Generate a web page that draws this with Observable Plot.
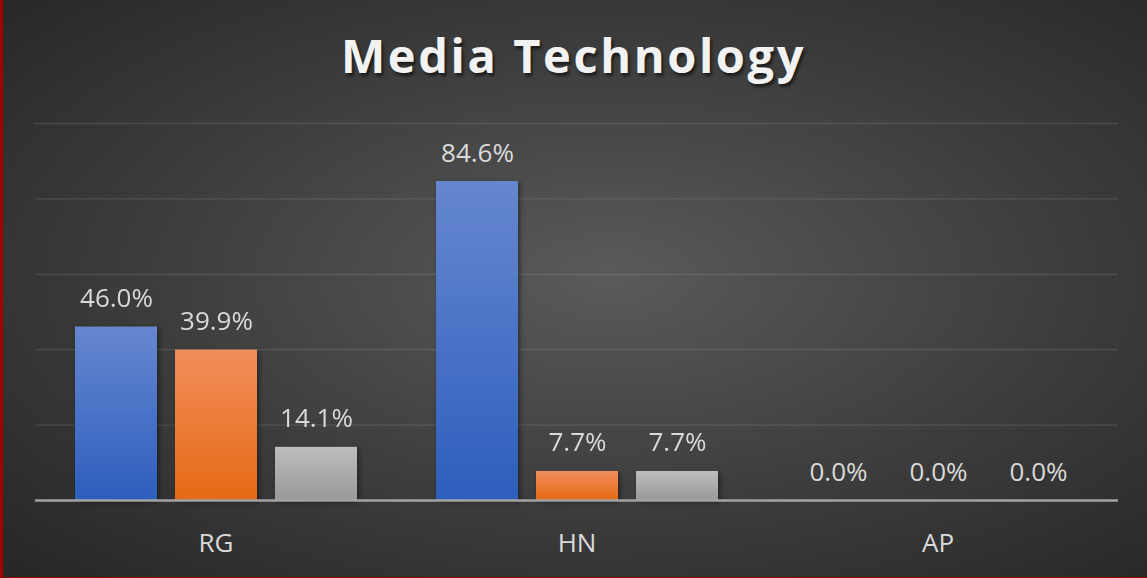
<!DOCTYPE html>
<html>
<head>
<meta charset="utf-8">
<script src="https://cdn.jsdelivr.net/npm/d3@7"></script>
<script src="https://cdn.jsdelivr.net/npm/@observablehq/plot@0.6"></script>
<style>
  html, body { margin: 0; padding: 0; background: #262626; }
  #chart {
    position: relative; width: 1147px; height: 578px; box-sizing: border-box;
    border-left: 3px solid #a00000; border-bottom: 1px solid #a00000;
    background: radial-gradient(ellipse farthest-corner at 53% 48%, #5a5a5a 0%, #3c3c3c 55%, #262626 100%);
    overflow: hidden;
  }
  #title {
    position: absolute; left: -3px; top: 32px; width: 1147px; text-align: center;
    font-family: "Open Sans", sans-serif; font-weight: 700; font-size: 47px; line-height: 47px;
    letter-spacing: 2.6px;
    color: #f2f2f2; text-shadow: 2px 3px 3px rgba(0,0,0,0.55);
  }
  #plot { position: absolute; left: -3px; top: 0; }
</style>
</head>
<body>
<div id="chart">
  <div id="title">Media Technology</div>
  <div id="plot"></div>
</div>
<script>
const groups = ["RG", "HN", "AP"];
const seriesNames = ["Series1", "Series2", "Series3"];
const series1 = [46.0, 84.6, 0.0];
const series2 = [39.9, 7.7, 0.0];
const series3 = [14.1, 7.7, 0.0];
const gridTicks = [20, 40, 60, 80, 100];

const seriesValues = [series1, series2, series3];
const rows = [];
groups.forEach((g, i) => {
  seriesNames.forEach((s, j) => rows.push({group: g, series: s, value: seriesValues[j][i]}));
});

const fmt = d3.format(".1f");
const labelColor = "#d9d9d9";

const plot = Plot.plot({
  width: 1147,
  height: 578,
  marginTop: 123,
  marginBottom: 78,
  marginLeft: 34,
  marginRight: 29,
  style: {background: "transparent", fontFamily: "'Open Sans', sans-serif", color: labelColor, overflow: "visible"},
  fx: {domain: groups, padding: 0, label: null},
  x: {domain: seriesNames, paddingInner: 0.18, paddingOuter: 0.395, axis: null},
  y: {domain: [0, 100], axis: null},
  color: {domain: seriesNames, range: ["url(#gBlue)", "url(#gOrange)", "url(#gGray)"]},
  marks: [
    Plot.ruleY(gridTicks, {stroke: "#ffffff", strokeOpacity: 0.11, strokeWidth: 1.3}),
    Plot.barY(rows, {fx: "group", x: "series", y: "value", fill: "series"}),
    Plot.ruleY([0], {stroke: "#a3a3a3", strokeWidth: 2.3}),
    Plot.text(rows, {fx: "group", x: "series", y: "value", text: d => fmt(d.value) + "%",
      lineAnchor: "bottom", dy: -20, fill: labelColor, fontSize: 26}),
    Plot.axisFx({anchor: "bottom", tickSize: 0, tickPadding: 33, fontSize: 26, fill: labelColor, label: null})
  ]
});

plot.insertAdjacentHTML("afterbegin", `<defs>
  <linearGradient id="gBlue" x1="0" y1="0" x2="0" y2="1"><stop offset="0" stop-color="#6687d0"/><stop offset="1" stop-color="#2d5ebd"/></linearGradient>
  <linearGradient id="gOrange" x1="0" y1="0" x2="0" y2="1"><stop offset="0" stop-color="#f28e5c"/><stop offset="1" stop-color="#e56914"/></linearGradient>
  <linearGradient id="gGray" x1="0" y1="0" x2="0" y2="1"><stop offset="0" stop-color="#bdbdbd"/><stop offset="1" stop-color="#999999"/></linearGradient>
  <filter id="shadow" x="-20%" y="-20%" width="140%" height="140%"><feDropShadow dx="2" dy="2" stdDeviation="2.5" flood-color="#000" flood-opacity="0.45"/></filter>
</defs>`);
plot.querySelectorAll('g[aria-label="bar"]').forEach(g => g.setAttribute("filter", "url(#shadow)"));
document.getElementById("plot").appendChild(plot);
</script>
</body>
</html>
